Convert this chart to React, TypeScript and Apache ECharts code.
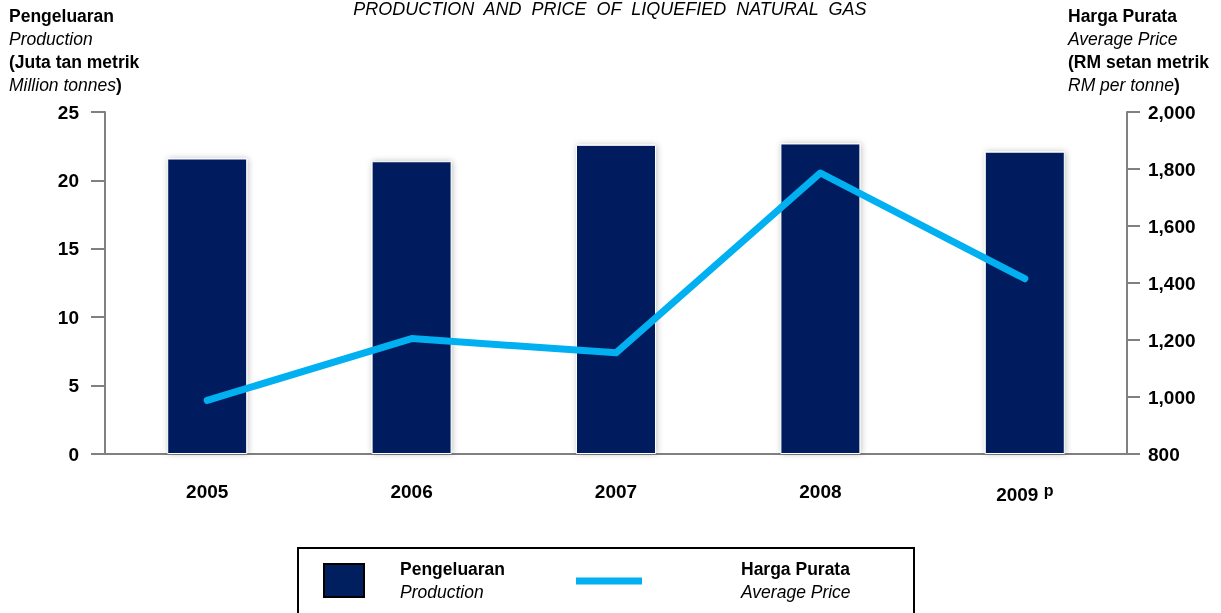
import React, { useEffect, useRef } from "react";
import * as echarts from "echarts";

const years = ["2005", "2006", "2007", "2008", "2009"];
const production = [21.6, 21.4, 22.6, 22.7, 22.1];
const avgPrice = [988, 1205, 1155, 1786, 1415];
const leftTicks = { min: 0, max: 25, interval: 5 };
const rightTicks = { min: 800, max: 2000, interval: 200 };

const FONT = "'Liberation Sans Narrow', 'Arial Narrow', 'Liberation Sans', Arial, sans-serif";
const NAVY = "#001f5f";
const CYAN = "#00b0f0";

export default function App() {
  const ref = useRef<HTMLDivElement>(null);
  useEffect(() => {
    const chart = echarts.init(ref.current!, undefined, { renderer: "svg" });
    const tickLabel = { color: "#000", fontWeight: "bold" as const, fontSize: 19, fontFamily: FONT };
    const axisLine = { show: true, lineStyle: { color: "#808080", width: 2 } };
    const rich = {
      b: { fontWeight: "bold" as const, fontSize: 17.5, fontFamily: FONT, color: "#000", lineHeight: 23 },
      i: { fontStyle: "italic" as const, fontSize: 17.5, fontFamily: FONT, color: "#000", lineHeight: 23 },
    };
    chart.setOption({
      animation: false,
      grid: { left: 105, right: 94, top: 112, height: 342 },
      xAxis: {
        type: "category",
        data: years,
        axisLine,
        axisTick: { show: false },
        axisLabel: {
          ...tickLabel,
          margin: 28,
          formatter: (v: string) => (v === "2009" ? "{y|2009} {p|p}" : v),
          rich: {
            y: { ...tickLabel },
            p: { ...tickLabel, fontSize: 16, padding: [0, 0, 8, 0] },
          },
        },
      },
      yAxis: [
        {
          type: "value",
          ...leftTicks,
          position: "left",
          axisLine,
          axisTick: { show: true, length: 14, lineStyle: { color: "#808080", width: 2 } },
          splitLine: { show: false },
          axisLabel: { ...tickLabel, margin: 26 },
        },
        {
          type: "value",
          ...rightTicks,
          position: "right",
          axisLine,
          axisTick: { show: true, length: 13, lineStyle: { color: "#808080", width: 2 } },
          splitLine: { show: false },
          axisLabel: {
            ...tickLabel,
            margin: 21,
            formatter: (v: number) => v.toLocaleString("en-US"),
          },
        },
      ],
      series: [
        {
          type: "bar",
          data: production,
          barWidth: 80,
          itemStyle: {
            color: NAVY,
            borderColor: "#ffffff",
            borderWidth: 1,
            shadowColor: "rgba(0,0,0,0.25)",
            shadowBlur: 6,
            shadowOffsetX: 1,
          },
        },
        {
          type: "line",
          yAxisIndex: 1,
          data: avgPrice,
          symbol: "none",
          lineStyle: { color: CYAN, width: 7, cap: "round", join: "round" },
        },
      ],
      graphic: [
        {
          type: "text",
          left: "center",
          top: 0,
          style: {
            text: "PRODUCTION  AND  PRICE  OF  LIQUEFIED  NATURAL  GAS",
            font: `italic 18px ${FONT}`,
            fill: "#000",
          },
        },
        {
          type: "text",
          left: 9,
          top: 7,
          style: {
            text: "{b|Pengeluaran}\n{i|Production}\n{b|(Juta tan metrik}\n{i|Million tonnes}{b|)}",
            rich,
          },
        },
        {
          type: "text",
          left: 1068,
          top: 7,
          style: {
            text: "{b|Harga Purata}\n{i|Average Price}\n{b|(RM setan metrik}\n{i|RM per tonne}{b|)}",
            rich,
          },
        },
        {
          type: "rect",
          shape: { x: 298, y: 548, width: 616, height: 70 },
          style: { fill: "#fff", stroke: "#000", lineWidth: 2 },
        },
        {
          type: "rect",
          shape: { x: 324, y: 564, width: 40, height: 33 },
          style: { fill: NAVY, stroke: "#000", lineWidth: 2 },
        },
        {
          type: "text",
          left: 400,
          top: 560,
          style: { text: "{b|Pengeluaran}\n{i|Production}", rich },
        },
        {
          type: "line",
          shape: { x1: 576, y1: 581, x2: 642, y2: 581 },
          style: { stroke: CYAN, lineWidth: 7 },
        },
        {
          type: "text",
          left: 741,
          top: 560,
          style: { text: "{b|Harga Purata}\n{i|Average Price}", rich },
        },
      ],
    });
    return () => chart.dispose();
  }, []);
  return <div ref={ref} style={{ position: "fixed", left: 0, top: 0, width: 1221, height: 613 }} />;
}
